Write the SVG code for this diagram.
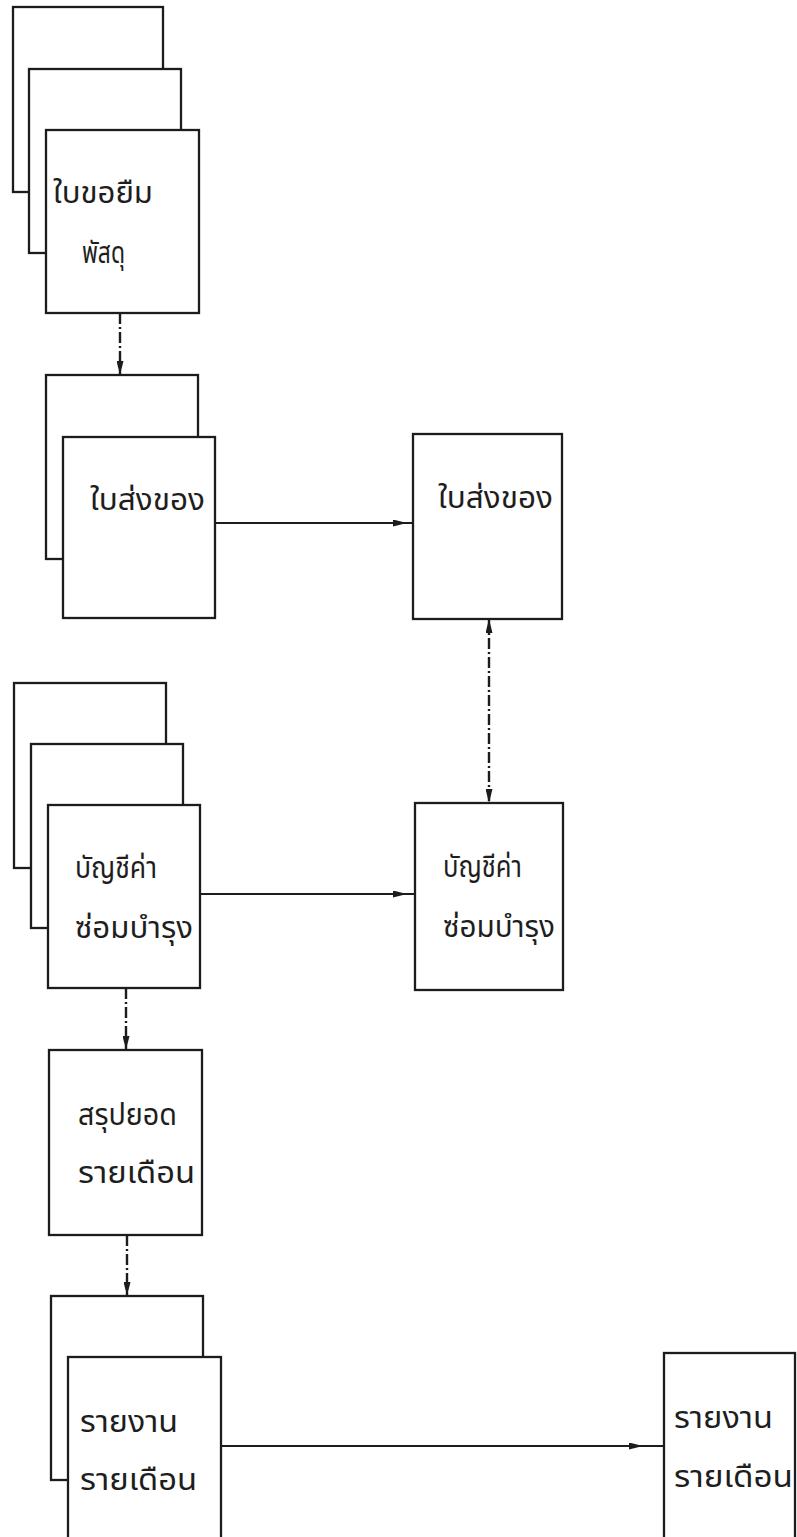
<svg xmlns="http://www.w3.org/2000/svg" width="797" height="1537" viewBox="0 0 797 1537">
<style>
.sheet{fill:#fff;stroke:#1c1c1c;stroke-width:2.3}
.lbl{font-family:"Noto Sans Thai","Noto Sans",sans-serif;font-size:31px;fill:#1e1e1e}
.solid{fill:none;stroke:#1c1c1c;stroke-width:2.2}
.dash{fill:none;stroke:#1c1c1c;stroke-width:2.4;stroke-dasharray:11 3 2 3}
</style>
<defs>
<marker id="ah" viewBox="0 0 14 7" refX="14" refY="3.5" markerWidth="14" markerHeight="7" markerUnits="userSpaceOnUse" orient="auto">
<path d="M0,0 L14,3.5 L0,7 Z" fill="#1c1c1c"/>
</marker>
<marker id="ahs" viewBox="0 0 14 7" refX="14" refY="3.5" markerWidth="14" markerHeight="7" markerUnits="userSpaceOnUse" orient="auto-start-reverse">
<path d="M0,0 L14,3.5 L0,7 Z" fill="#1c1c1c"/>
</marker>
</defs>
<rect width="797" height="1537" fill="#fff"/>

<g id="connectors">
<path class="dash" d="M120,313 L120,375" marker-end="url(#ah)"/>
<path class="solid" d="M215,523 L407,523 L413,523" marker-mid="url(#ah)"/>
<path class="dash" d="M489,619 L489,803" marker-start="url(#ahs)" marker-end="url(#ah)"/>
<path class="solid" d="M200,894 L407,894 L415,894" marker-mid="url(#ah)"/>
<path class="dash" d="M126,988 L126,1050" marker-end="url(#ah)"/>
<path class="dash" d="M127,1235 L127,1296" marker-end="url(#ah)"/>
<path class="solid" d="M221,1446 L643,1446 L664,1446" marker-mid="url(#ah)"/>
</g>

<g id="node-borrow-form">
<rect class="sheet" x="13" y="7" width="150" height="185"/>
<rect class="sheet" x="29" y="69" width="152" height="184"/>
<rect class="sheet" x="46" y="130" width="153" height="183"/>
<text class="lbl" x="53" y="203" textLength="100" lengthAdjust="spacingAndGlyphs">ใบขอยืม</text>
<text class="lbl" x="82" y="263" textLength="43" lengthAdjust="spacingAndGlyphs">พัสดุ</text>
</g>

<g id="node-delivery-stack">
<rect class="sheet" x="46" y="375" width="152" height="184"/>
<rect class="sheet" x="63" y="437" width="152" height="181"/>
<text class="lbl" x="90" y="510" textLength="115" lengthAdjust="spacingAndGlyphs">ใบส่งของ</text>
</g>

<g id="node-delivery-right">
<rect class="sheet" x="413" y="434" width="149" height="185"/>
<text class="lbl" x="438" y="508" textLength="115" lengthAdjust="spacingAndGlyphs">ใบส่งของ</text>
</g>

<g id="node-repair-stack">
<rect class="sheet" x="14" y="683" width="152" height="185"/>
<rect class="sheet" x="31" y="744" width="152" height="184"/>
<rect class="sheet" x="48" y="805" width="152" height="183"/>
<text class="lbl" x="75" y="878" textLength="82" lengthAdjust="spacingAndGlyphs">บัญชีค่า</text>
<text class="lbl" x="75" y="938" textLength="118" lengthAdjust="spacingAndGlyphs">ซ่อมบำรุง</text>
</g>

<g id="node-repair-right">
<rect class="sheet" x="415" y="803" width="148" height="187"/>
<text class="lbl" x="443" y="877" textLength="79" lengthAdjust="spacingAndGlyphs">บัญชีค่า</text>
<text class="lbl" x="443" y="937" textLength="112" lengthAdjust="spacingAndGlyphs">ซ่อมบำรุง</text>
</g>

<g id="node-monthly-summary">
<rect class="sheet" x="49" y="1050" width="153" height="185"/>
<text class="lbl" x="78" y="1125" textLength="99" lengthAdjust="spacingAndGlyphs">สรุปยอด</text>
<text class="lbl" x="78" y="1183" textLength="117" lengthAdjust="spacingAndGlyphs">รายเดือน</text>
</g>

<g id="node-monthly-report-stack">
<rect class="sheet" x="51" y="1296" width="152" height="184"/>
<rect class="sheet" x="68" y="1357" width="153" height="190"/>
<text class="lbl" x="80" y="1432" textLength="98" lengthAdjust="spacingAndGlyphs">รายงาน</text>
<text class="lbl" x="80" y="1490" textLength="117" lengthAdjust="spacingAndGlyphs">รายเดือน</text>
</g>

<g id="node-monthly-report-right">
<rect class="sheet" x="664" y="1353" width="131" height="194"/>
<text class="lbl" x="674" y="1428" textLength="99" lengthAdjust="spacingAndGlyphs">รายงาน</text>
<text class="lbl" x="674" y="1487" textLength="119" lengthAdjust="spacingAndGlyphs">รายเดือน</text>
</g>
</svg>
